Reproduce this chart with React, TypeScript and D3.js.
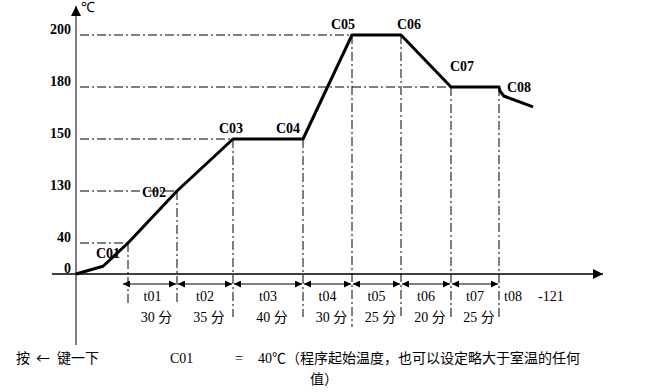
import React from "react";
import * as d3 from "d3";

// 程序段名称及设定温度
const stages = ["C01", "C02", "C03", "C04", "C05", "C06", "C07", "C08"];
const stageTemps = [40, 130, 150, 150, 200, 200, 180, 180];
// 各段名称与时间
const segLabels = ["t01", "t02", "t03", "t04", "t05", "t06", "t07"];
const segDurations = ["30 分", "35 分", "40 分", "30 分", "25 分", "20 分", "25 分"];
// 纵轴刻度
const yTicks = [0, 40, 130, 150, 180, 200];
// 起点到 C01 的升温段 [段位置, 温度]
const leadIn: [number, number][] = [[-1, 0], [-0.48, 10]];
// C08 之后的降温尾线
const tail: [number, number][] = [[7.02, 177.7], [7.1, 174.8], [7.71, 168.5]];

const W = 654;
const H = 392;

// 刻度位置在原图中不是等距的，用分段线性比例尺
const x = d3.scaleLinear()
  .domain([-1, 0, 1, 2, 3, 4, 5, 6, 7])
  .range([76, 128, 177, 233, 303, 352, 401, 451, 499]);
const y = d3.scaleLinear()
  .domain(yTicks)
  .range([274, 243, 191, 139, 87, 35]);

const serif = { fontFamily: "Liberation Serif, Times New Roman, serif" };
const cjk = { fontFamily: "Noto Sans CJK SC, sans-serif" };
const dashDot = "9,3,2,3";

export default function App() {
  const pts: [number, number][] = [
    ...leadIn,
    ...stageTemps.map((t, i) => [i, t] as [number, number]),
    ...tail,
  ];
  const line = d3.line<[number, number]>()
    .x((d) => x(d[0]))
    .y((d) => y(d[1]));

  const x0 = x(-1);
  const y0 = y(0);
  const arrowY = 284;

  // 标签偏移
  const labelDx = [-20, -23, -2, -15, -9, 8, 11, 20];
  const labelDy = [15, 6, -6, -6, -6, -6, -16, 5];

  return (
    <svg width={W} height={H} style={{ position: "absolute", left: 0, top: 0 }}>
      <defs>
        <marker id="ah" viewBox="0 0 10 10" refX="10" refY="5" markerWidth="7" markerHeight="7" orient="auto-start-reverse" markerUnits="userSpaceOnUse">
          <path d="M0,0 L10,5 L0,10 z" fill="#000" />
        </marker>
        <marker id="axh" viewBox="0 0 10 10" refX="10" refY="5" markerWidth="12" markerHeight="10" orient="auto" markerUnits="userSpaceOnUse">
          <path d="M0,0 L10,5 L0,10 z" fill="#000" />
        </marker>
      </defs>
      <rect width={W} height={H} fill="#fff" />

      {/* 水平点划线 */}
      {stages.map((s, i) =>
        i === 3 || i === 5 || i === 7 ? null : (
          <line key={"h" + s} x1={x0 + 4} x2={x(i)} y1={y(stageTemps[i])} y2={y(stageTemps[i])}
            stroke="#000" strokeWidth={1} strokeDasharray={dashDot} />
        )
      )}
      {/* 竖直点划线 */}
      {stages.map((s, i) => (
        <line key={"v" + s} x1={x(i)} x2={x(i)} y1={y(stageTemps[i])} y2={i < 2 ? 305 : i === 4 ? 327 : 317}
          stroke="#000" strokeWidth={1} strokeDasharray={dashDot} />
      ))}

      {/* 坐标轴 */}
      <line x1={x0} x2={x0} y1={345} y2={6} stroke="#555" strokeWidth={1.5} markerEnd="url(#axh)" />
      <line x1={52} x2={603} y1={y0} y2={y0} stroke="#000" strokeWidth={1.5} markerEnd="url(#axh)" />
      <text x={81} y={12} style={serif} fontSize={14}>℃</text>

      {yTicks.map((t) => (
        <text key={t} x={71} y={y(t)} dy="-0.1em" textAnchor="end" style={serif} fontWeight="bold" fontSize={14}>{t}</text>
      ))}

      {/* 温度曲线 */}
      <path d={line(pts) ?? ""} fill="none" stroke="#000" strokeWidth={3} strokeLinejoin="round" />

      {stages.map((s, i) => (
        <text key={"l" + s} x={x(i) + labelDx[i]} y={y(stageTemps[i]) + labelDy[i]} textAnchor="middle"
          style={serif} fontWeight="bold" fontSize={14}>{s}</text>
      ))}

      {/* 时间段箭头 */}
      {segLabels.map((t, i) => {
        const a = x(i) - (i === 0 ? 6 : 0);
        const b = x(i + 1);
        const mid = (x(i) + b) / 2;
        return (
          <g key={t}>
            <line x1={a + 1} x2={b - 1} y1={arrowY} y2={arrowY} stroke="#000" strokeWidth={1}
              markerStart="url(#ah)" markerEnd="url(#ah)" />
            <text x={mid} y={301} textAnchor="middle" style={serif} fontSize={14}>{t}</text>
            <text x={mid + 4} y={322} textAnchor="middle" style={serif} fontSize={14}>
              {segDurations[i].split(" ")[0]} <tspan style={cjk}>{segDurations[i].split(" ")[1]}</tspan>
            </text>
          </g>
        );
      })}
      <text x={504} y={301} style={serif} fontSize={14}>t08</text>
      <text x={538} y={301} style={serif} fontSize={14}>-121</text>

      {/* 底部说明 */}
      <text x={16} y={363} style={cjk} fontSize={14}>
        按<tspan dx={6}>←</tspan><tspan dx={7}>键一下</tspan>
      </text>
      <text x={170} y={363} style={serif} fontSize={14}>C01</text>
      <text x={235} y={363} style={serif} fontSize={14}>=</text>
      <text x={258} y={363} style={cjk} fontSize={14}>
        <tspan style={serif}>40</tspan>℃（程序起始温度，也可以设定略大于室温的任何
      </text>
      <text x={310} y={384} style={cjk} fontSize={14}>值）</text>
    </svg>
  );
}
